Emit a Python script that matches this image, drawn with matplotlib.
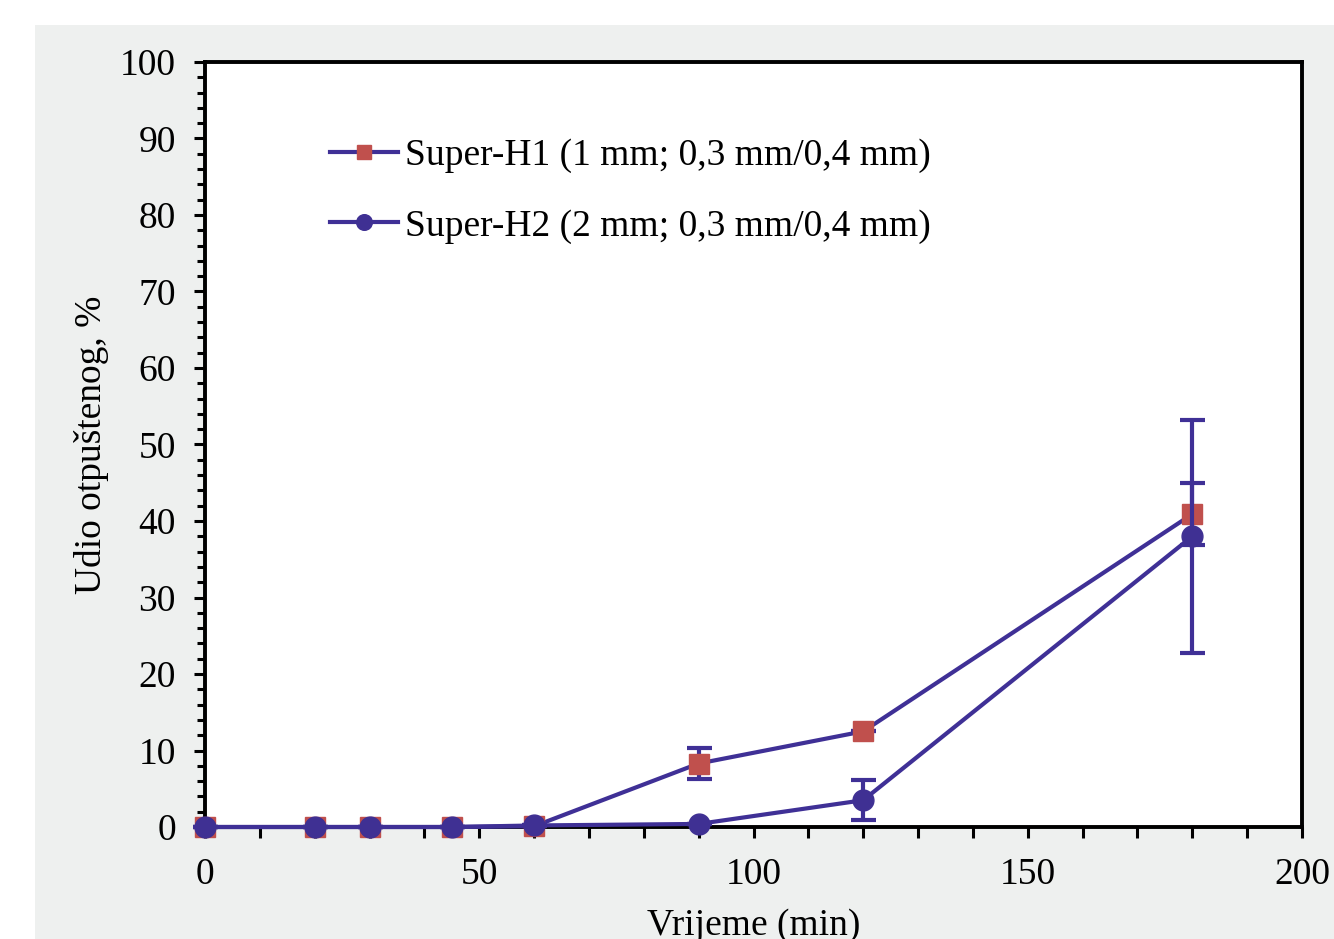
import matplotlib.pyplot as plt
from matplotlib.patches import Rectangle
from matplotlib.ticker import MultipleLocator

plt.rcParams['font.family'] = ['Liberation Serif', 'DejaVu Serif']

# podaci (očitano s grafa)
vrijeme = [0, 20, 30, 45, 60, 90, 120, 180]
h1 = [0, 0, 0, 0, 0.1, 8.3, 12.5, 40.9]
h1_err = [0, 0, 0, 0, 0, 2.0, 0, 4.1]
h2 = [0, 0, 0, 0, 0.2, 0.4, 3.5, 38.0]
h2_err = [0, 0, 0, 0, 0, 0, 2.6, 15.2]

naziv_h1 = 'Super-H1 (1 mm; 0,3 mm/0,4 mm)'
naziv_h2 = 'Super-H2 (2 mm; 0,3 mm/0,4 mm)'

boja_linije = '#3f3096'
boja_h1 = '#c0504d'
boja_h2 = '#3f3093'
vel = 27

fig = plt.figure(figsize=(13.34, 9.39), dpi=100)
fig.patch.set_facecolor('white')

# sivi panel iza grafa
pozadina = fig.add_axes([35 / 1334, 0, 1 - 35 / 1334, 1 - 25 / 939], zorder=-5)
pozadina.axis('off')
pozadina.add_patch(Rectangle((0, 0), 1, 1, transform=pozadina.transAxes,
                             color='#eef0ef'))

ax = fig.add_axes([205 / 1334, 1 - 827 / 939, (1302 - 205) / 1334, (827 - 62) / 939])
ax.set_facecolor('white')

# error barovi
ax.errorbar(vrijeme, h1, yerr=h1_err, fmt='none', ecolor=boja_linije, elinewidth=3,
            capsize=9, capthick=3, clip_on=False, zorder=3)
ax.errorbar(vrijeme, h2, yerr=h2_err, fmt='none', ecolor=boja_linije, elinewidth=3,
            capsize=9, capthick=3, clip_on=False, zorder=4)

# linije s markerima
ax.plot(vrijeme, h1, color=boja_linije, lw=3, marker='s', ms=14,
        mfc=boja_h1, mec=boja_h1, label=naziv_h1, clip_on=False, zorder=3)
ax.plot(vrijeme, h2, color=boja_linije, lw=3, marker='o', ms=15,
        mfc=boja_h2, mec=boja_h2, label=naziv_h2, clip_on=False, zorder=4)

ax.set_xlim(0, 200)
ax.set_ylim(0, 100)
ax.xaxis.set_major_locator(MultipleLocator(50))
ax.xaxis.set_minor_locator(MultipleLocator(10))
ax.yaxis.set_major_locator(MultipleLocator(10))
ax.yaxis.set_minor_locator(MultipleLocator(2))

for s in ax.spines.values():
    s.set_linewidth(2.8)
    s.set_color('black')

ax.tick_params(axis='both', which='major', direction='out', length=8, width=2.2,
               labelsize=vel, color='black')
ax.tick_params(axis='y', which='minor', direction='out', length=6, width=2.2)
ax.tick_params(axis='x', which='minor', direction='out', length=8, width=2.2)
ax.tick_params(axis='y', which='major', pad=13)
ax.tick_params(axis='x', which='major', pad=14)

ax.set_ylabel('Udio otpuštenog, %', fontsize=vel, labelpad=8)
ax.set_xlabel('Vrijeme (min)', fontsize=vel, labelpad=12)

ax.legend(loc='upper left', bbox_to_anchor=(0.114, 0.9), frameon=False,
          fontsize=vel, handlelength=1.8, handletextpad=0.2, labelspacing=0.96,
          markerscale=0.75, borderpad=0, borderaxespad=0)

fig.savefig('out.png', dpi=100)
